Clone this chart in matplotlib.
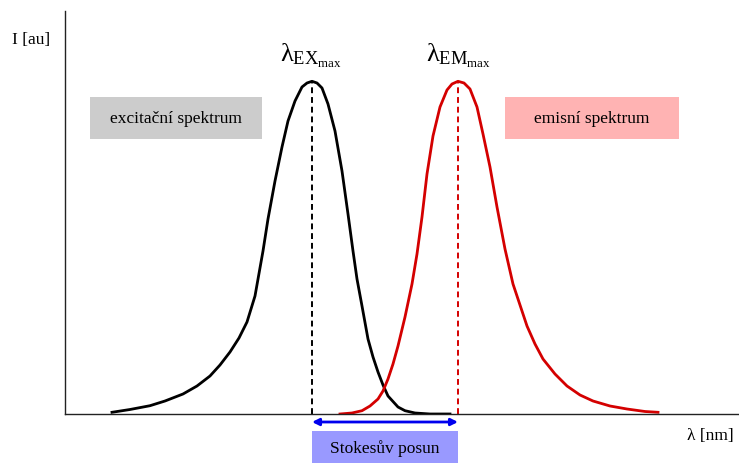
import matplotlib
matplotlib.use('Agg')
from matplotlib import pyplot as plt
from matplotlib import patches

plt.rcParams['font.family'] = ['Liberation Serif', 'DejaVu Serif']
plt.rcParams['mathtext.fontset'] = 'custom'
plt.rcParams['mathtext.rm'] = 'Liberation Serif'
plt.rcParams['mathtext.it'] = 'Liberation Serif'
plt.rcParams['mathtext.bf'] = 'Liberation Serif:bold'

# excitation spectrum (arbitrary units)
ex_wl = [47, 65, 85, 100, 118, 132, 145, 155, 165, 174, 182, 190, 198, 203, 210,
         217, 223, 230, 237, 242, 247, 252, 257, 263, 270, 277, 283, 288, 292, 297,
         303, 308, 313, 318, 323, 333, 340, 350, 365, 385]
ex_int = [1.7, 4.5, 8.3, 13, 20, 28, 38, 49, 62, 76, 92, 118, 163, 195, 233,
          267, 293, 313, 327, 331, 332.7, 331, 326, 310, 283, 243, 200, 163, 135, 108,
          75, 57, 42, 29, 18, 7, 3.3, 1, 0, 0]

# emission spectrum
em_wl = [275, 287, 297, 305, 313, 318, 323, 328, 333, 340, 347, 352, 357, 362, 368,
         375, 382, 387, 393, 399, 405, 412, 418, 425, 432, 440, 448, 455, 462, 470,
         478, 490, 502, 515, 528, 545, 562, 580, 593]
em_int = [0, 1, 3.3, 8, 15, 23, 35, 50, 68, 97, 130, 160, 197, 240, 278,
          307, 324, 330, 332.7, 331, 325, 307, 280, 247, 207, 165, 130, 109, 88, 70,
          55, 40, 28, 19, 13, 8, 5, 2.5, 1.7]

ex_max = 247
em_max = 393
peak = 332.7

fig = plt.figure(figsize=(7.39, 4.64), dpi=100)
ax = fig.add_axes([65 / 739, 49 / 464, 673 / 739, 403 / 464])
ax.set_xlim(0, 673)
ax.set_ylim(0, 403)
ax.set_xticks([])
ax.set_yticks([])
for s in ['top', 'right']:
    ax.spines[s].set_visible(False)
for s in ['left', 'bottom']:
    ax.spines[s].set_linewidth(1.0)
    ax.spines[s].set_color('#222222')

ax.plot(ex_wl, ex_int, color='black', lw=2.0, solid_joinstyle='round')
ax.plot(em_wl, em_int, color='#d40000', lw=2.0, solid_joinstyle='round')

ax.plot([ex_max, ex_max], [0, peak], ls=(0, (3, 2)), color='black', lw=1.4)
ax.plot([em_max, em_max], [0, peak], ls=(0, (3, 2)), color='#d40000', lw=1.4)

# spectrum labels
ax.add_patch(patches.Rectangle((25, 275), 172, 42, color='#cccccc', lw=0))
ax.text(111, 296, 'excitační spektrum', ha='center', va='center', fontsize=12.5)
ax.add_patch(patches.Rectangle((440, 275), 174, 42, color='#ffb3b3', lw=0))
ax.text(527, 296, 'emisní spektrum', ha='center', va='center', fontsize=12.5)

ax.text(ex_max - 1, 345, r'$\lambda_{\mathrm{EX}_{\mathrm{max}}}$', ha='center',
        va='bottom', fontsize=19)
ax.text(em_max, 345, r'$\lambda_{\mathrm{EM}_{\mathrm{max}}}$', ha='center',
        va='bottom', fontsize=19)

# Stokes shift
ax.annotate('', xy=(ex_max, -8), xytext=(em_max, -8),
            arrowprops=dict(arrowstyle='<|-|>', color='#0000ee', lw=2,
                            mutation_scale=10, shrinkA=0, shrinkB=0),
            annotation_clip=False)
ax.add_patch(patches.Rectangle((ex_max, -50), em_max - ex_max, 33,
                               color='#9999ff', lw=0, clip_on=False))
ax.text((ex_max + em_max) / 2, -34, 'Stokesův posun', ha='center', va='center',
        fontsize=12.5)

fig.text(31 / 739, 1 - 40 / 464, 'I [au]', ha='center', va='center', fontsize=12.5)
fig.text(710 / 739, 1 - 436 / 464, 'λ [nm]', ha='center', va='center', fontsize=12.5)

fig.savefig('out.png', dpi=100)
